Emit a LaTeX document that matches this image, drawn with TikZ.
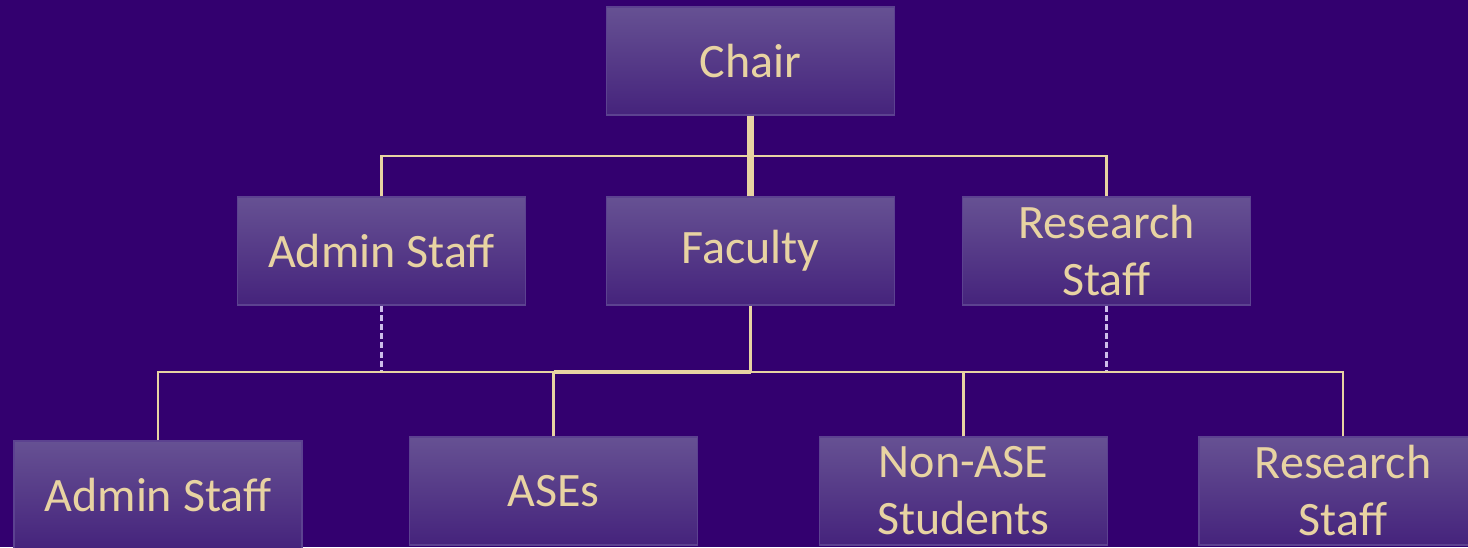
\documentclass[tikz,border=0pt]{standalone}
\usepackage{fontspec}
\setmainfont{Carlito}
\usetikzlibrary{positioning}

\definecolor{uwpurple}{HTML}{33006F}
\definecolor{uwgold}{HTML}{E8D3A2}
\definecolor{boxtop}{HTML}{665193}
\definecolor{boxbottom}{HTML}{45237C}
\definecolor{boxedge}{HTML}{5C4290}
\definecolor{lavender}{HTML}{CDBDEA}

\begin{document}
\begin{tikzpicture}[x=0.5pt,y=-0.5pt,
        box/.style={draw=boxedge,line width=0.6pt,top color=boxtop,bottom color=boxbottom,
            minimum width=144pt,minimum height=54pt,inner sep=0pt,align=center,
            text=uwgold,font=\fontsize{24}{28.5}\selectfont},
        link/.style={uwgold,line width=1.2pt},
        dotted link/.style={lavender,line width=1.2pt,dash pattern=on 3pt off 1.6pt}]
                \fill[uwpurple] (0,0) rectangle (1468,547);
                \useasboundingbox (0,0) rectangle (1468,547);

                % top and second row
                \node[box] (chair) at (750.5,61) {Chair};
                \node[box] (admin) at (381.5,251) {Admin Staff};
                \node[box] (faculty) at (750.5,251) {Faculty};
                \node[box] (research) at (1106.5,251) {Research\\Staff};

                % bottom row
                \node[box] (adminB) at (158,495) {Admin Staff};
                \node[box] (ases) at (553.5,491) {ASEs};
                \node[box] (nonase) at (963.5,491) {Non-ASE\\Students};
                \node[box] (researchB) at (1343,491) {Research\\Staff};

                \coordinate (upper) at (750.5,156);
                \coordinate (lower) at (750.5,372);

                \draw[link] (admin.north) |- (upper) -| (research.north);
                \draw[link,line width=3.5pt] (chair.south) -- (faculty.north);

                \draw[dotted link] (admin.south) -- (admin.south |- lower);
                \draw[dotted link] (research.south) -- (research.south |- lower);

                \draw[link] (faculty.south) -- (lower);
                \draw[link] (adminB.north) |- (lower) -| (researchB.north);
                \draw[link] (ases.north) -- (ases.north |- lower);
                \draw[link] (nonase.north) -- (nonase.north |- lower);
                \draw[link,line width=2.2pt] (ases.north |- lower) -- (lower);
            \end{tikzpicture}
\end{document}
